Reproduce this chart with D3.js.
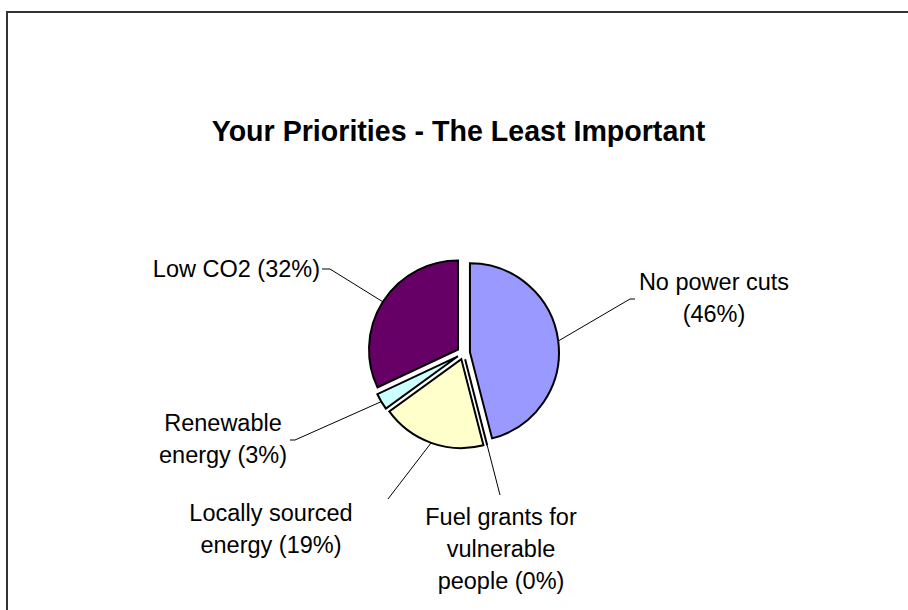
<!DOCTYPE html>
<html><head><meta charset="utf-8">
<script src="https://cdn.jsdelivr.net/npm/d3@7/dist/d3.min.js"></script>
<style>html,body{margin:0;padding:0;background:#fff;}svg{display:block;}</style>
</head><body>
<svg id="chart" width="908" height="610"></svg>
<script>
const title = "Your Priorities - The Least Important";
const categories = ["No power cuts", "Fuel grants for vulnerable people", "Locally sourced energy", "Renewable energy", "Low CO2"];
const values = [46, 0, 19, 3, 32];
const labelLines = [["No power cuts", "(46%)"], ["Fuel grants for", "vulnerable", "people (0%)"], ["Locally sourced", "energy (19%)"], ["Renewable", "energy (3%)"], ["Low CO2 (32%)"]];
const colors = ["#9999FF", "#993366", "#FFFFCC", "#CCFFFF", "#660066"];

// layout (positions for labels and leader elbows)
const labelLayout = [
  {x: 714, y: 290, anchor: "middle", pts: [[630, 299], [635, 299]]},
  {x: 501, y: 525, anchor: "middle", pts: [[500, 495]]},
  {x: 271, y: 521, anchor: "middle", pts: [[388, 499]]},
  {x: 223, y: 431, anchor: "middle", pts: [[295, 440], [290, 440]]},
  {x: 320, y: 277, anchor: "end", pts: [[330, 269], [322, 269]]}
];

const svg = d3.select("#chart");
const cx = 463.5, cy = 353, R = 89, explode = 6.5;
const lineH = 32;

svg.append("rect").attr("x", 7).attr("y", 12).attr("width", 1000).attr("height", 1000)
  .attr("fill", "#fff").attr("stroke", "#333").attr("stroke-width", 2);

svg.append("text").attr("x", 458.5).attr("y", 141).attr("text-anchor", "middle")
  .attr("font-family", "'Liberation Sans', Arial, sans-serif").attr("font-weight", "bold")
  .attr("font-size", 28.6).attr("fill", "#000").text(title);

const pie = d3.pie().sort(null).value(d => d)(values);
const arc = d3.arc().innerRadius(0).outerRadius(R);

const g = svg.append("g").attr("transform", `translate(${cx},${cy})`);
pie.forEach((p, i) => {
  const mid = (p.startAngle + p.endAngle) / 2;
  const ox = explode * Math.sin(mid), oy = -explode * Math.cos(mid);
  g.append("path").attr("d", arc(p)).attr("transform", `translate(${ox},${oy})`)
    .attr("fill", colors[i]).attr("stroke", "#000").attr("stroke-width", 2).attr("stroke-linejoin", "miter");
  const sx = cx + ox + R * Math.sin(mid), sy = cy + oy - R * Math.cos(mid);
  const L = labelLayout[i];
  const pts = [[sx, sy]].concat(L.pts);
  svg.append("path").attr("d", d3.line()(pts)).attr("fill", "none").attr("stroke", "#000").attr("stroke-width", 1);
  const t = svg.append("text").attr("text-anchor", L.anchor)
    .attr("font-family", "'Liberation Sans', Arial, sans-serif").attr("font-size", 23.5).attr("fill", "#000");
  labelLines[i].forEach((ln, k) => {
    t.append("tspan").attr("x", L.x).attr("y", L.y + k * lineH).text(ln);
  });
});
</script>
</body></html>
